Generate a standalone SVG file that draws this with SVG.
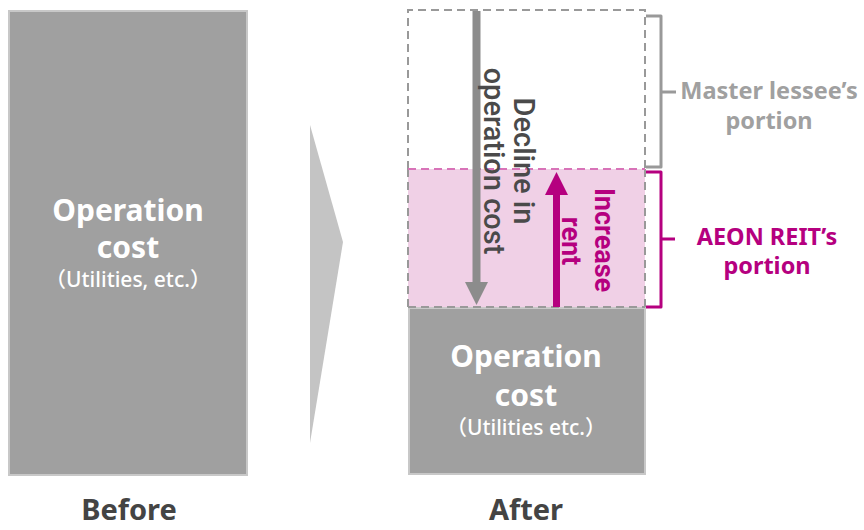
<svg xmlns="http://www.w3.org/2000/svg" width="864" height="530" viewBox="0 0 864 530">
<style>
.box{fill:#a0a0a0;stroke:#c8c8c8;stroke-width:2}
.wt{fill:#ffffff;font-family:"Noto Sans","Noto Sans CJK JP",sans-serif;font-weight:bold;text-anchor:middle}
.sub{font-weight:500;font-size:21px}
.cap{fill:#444444;font-family:"Noto Sans",sans-serif;font-weight:bold;font-size:29px;text-anchor:middle}
.lbl{font-family:"Noto Sans",sans-serif;font-weight:bold;font-size:23.5px;text-anchor:middle}
.rot{font-family:Roboto,"Noto Sans",sans-serif;text-anchor:middle}
.br{fill:none;stroke-width:3;stroke-linejoin:round}
</style>
<g id="before">
<rect class="box" x="9" y="11" width="238" height="464"/>
<text class="wt" x="128" y="221" font-size="30">Operation</text>
<text class="wt" x="128" y="258" font-size="30">cost</text>
<text class="wt sub" x="128" y="287">（Utilities, etc.）</text>
</g>
<g id="chevron">
<polygon points="310,125 343,242 310,443" fill="#c4c4c4"/>
</g>
<g id="after">
<rect x="408" y="169" width="237" height="138" fill="#f0d0e6"/>
<path d="M408,169 V10 H645 V169" fill="none" stroke="#999999" stroke-width="2" stroke-dasharray="8,5"/>
<path d="M408,169 V307 M645,169 V307" fill="none" stroke="#999999" stroke-width="2" stroke-dasharray="8,5"/>
<line x1="408" y1="169" x2="645" y2="169" stroke="#d873b8" stroke-width="2" stroke-dasharray="8,5"/>
<rect class="box" x="409" y="308" width="236" height="166"/>
<line x1="408" y1="307" x2="645" y2="307" stroke="#999999" stroke-width="2" stroke-dasharray="8,5"/>
<text class="wt" x="526" y="367" font-size="30">Operation</text>
<text class="wt" x="526" y="406" font-size="30">cost</text>
<text class="wt sub" x="526" y="435">（Utilities etc.）</text>
</g>
<g id="connectors">
<line x1="476.5" y1="11" x2="476.5" y2="284" stroke="#8c8c8c" stroke-width="8"/>
<polygon points="465,282 488,282 476.5,305" fill="#8c8c8c"/>
<line x1="556.5" y1="307" x2="556.5" y2="193" stroke="#b5007f" stroke-width="7"/>
<polygon points="545,195 568,195 556.5,172" fill="#b5007f"/>
<path class="br" stroke="#999999" d="M646,16 H661 V167 H646 M661,92 H676"/>
<path class="br" stroke="#b5007f" d="M646,172 H661 V307 H646 M661,239 H675"/>
</g>
<g id="decline-label">
<text class="rot" fill="#4a4a4a" font-weight="500" font-size="29" transform="translate(514,161) rotate(90)">Decline in</text>
<text class="rot" fill="#4a4a4a" font-weight="500" font-size="29" transform="translate(484,161) rotate(90)">operation cost</text>
</g>
<g id="increase-label">
<text class="rot" fill="#b5007f" font-weight="bold" font-size="27" transform="translate(595,240) rotate(90)">Increase</text>
<text class="rot" fill="#b5007f" font-weight="bold" font-size="27" transform="translate(562,241) rotate(90)">rent</text>
</g>
<g id="master-label">
<text class="lbl" fill="#a0a0a0" x="769" y="99">Master lessee’s</text>
<text class="lbl" fill="#a0a0a0" x="769" y="129">portion</text>
</g>
<g id="aeon-label">
<text class="lbl" fill="#b5007f" x="767" y="245">AEON REIT’s</text>
<text class="lbl" fill="#b5007f" x="767" y="274">portion</text>
</g>
<g id="captions">
<text class="cap" x="129" y="520">Before</text>
<text class="cap" x="526" y="520">After</text>
</g>
</svg>
